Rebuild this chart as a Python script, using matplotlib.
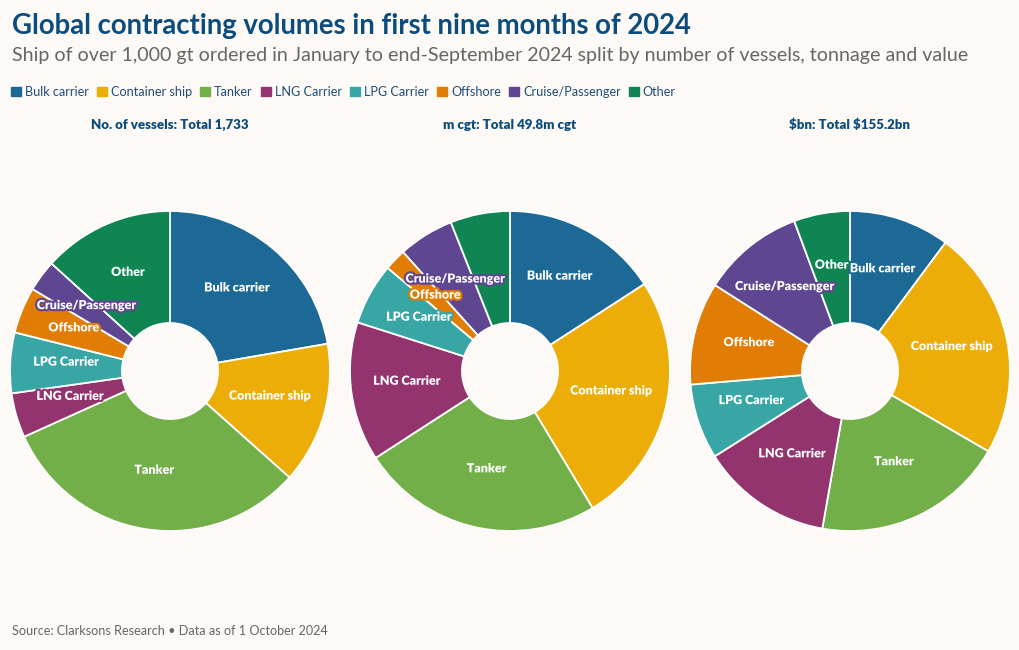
import matplotlib
matplotlib.use("Agg")
import matplotlib.pyplot as plt
import matplotlib.patheffects as pe
from matplotlib.patches import Patch
import numpy as np

plt.rcParams['font.family'] = ['Lato', 'DejaVu Sans']

# data
categories = ["Bulk carrier", "Container ship", "Tanker", "LNG Carrier",
              "LPG Carrier", "Offshore", "Cruise/Passenger", "Other"]
vessels = [386, 248, 549, 78, 106, 81, 55, 230]          # total 1,733
cgt_m = [7.9, 12.7, 12.2, 7.0, 3.1, 1.1, 2.8, 3.0]        # total 49.8m cgt
value_bn = [15.8, 36.0, 30.1, 20.6, 11.8, 16.1, 16.0, 8.8]  # total $155.2bn
panel_titles = ["No. of vessels: Total 1,733", "m cgt: Total 49.8m cgt",
                "\\$bn: Total \\$155.2bn"]
# slice labels that the original leaves out
hidden = [[], ["Other"], []]

colors = ["#1D6996", "#EDAD08", "#73AF48", "#94346E",
          "#38A6A5", "#E17C05", "#5F4690", "#0F8554"]
bg = "#FDF9F6"
navy = "#0B4C7D"

W, H = 1020, 650
fig = plt.figure(figsize=(W / 100, H / 100), dpi=100, facecolor=bg)

fig.text(12 / W, 1 - 26 / H, "Global contracting volumes in first nine months of 2024",
         fontsize=19.8, fontweight="bold", color=navy, va="center")
fig.text(12 / W, 1 - 56 / H,
         "Ship of over 1,000 gt ordered in January to end-September 2024 split by number of vessels, tonnage and value",
         fontsize=14.1, color="#666666", va="center")

handles = [Patch(facecolor=c, edgecolor=c, label=l) for c, l in zip(colors, categories)]
fig.legend(handles=handles, loc="center left", bbox_to_anchor=(11 / W, 1 - 92 / H),
           ncol=8, frameon=False, fontsize=9.1, labelcolor="#1F4E79",
           handlelength=0.8, handleheight=0.8, handletextpad=0.3,
           columnspacing=0.65, borderpad=0, borderaxespad=0)

R = 160
centers = [170, 510, 850]
cy = 371
for cx, data, title, skip in zip(centers, [vessels, cgt_m, value_bn], panel_titles, hidden):
    ax = fig.add_axes([(cx - R) / W, (H - cy - R) / H, 2 * R / W, 2 * R / H])
    ax.set_facecolor(bg)
    wedges, _ = ax.pie(data, colors=colors, startangle=90, counterclock=False,
                       radius=1.0, wedgeprops=dict(width=0.7, edgecolor="white", linewidth=1.3))
    ax.set_xlim(-1, 1)
    ax.set_ylim(-1, 1)
    ax.axis("off")
    for w, lab, col in zip(wedges, categories, colors):
        if lab in skip:
            continue
        ang = np.deg2rad((w.theta1 + w.theta2) / 2)
        r = 0.65
        ax.text(r * np.cos(ang), r * np.sin(ang), lab, ha="center", va="baseline",
                fontsize=9, fontweight="heavy", color="white",
                path_effects=[pe.Stroke(linewidth=3, foreground=col), pe.Normal()])
    fig.text(cx / W, 1 - 125 / H, title, ha="center", va="center",
             fontsize=9.5, fontweight="heavy", color=navy)

fig.text(12 / W, 1 - 631 / H, "Source: Clarksons Research \u2022 Data as of 1 October 2024",
         fontsize=9.1, color="#666666", va="center")

fig.savefig("out.png", dpi=100, facecolor=bg)
